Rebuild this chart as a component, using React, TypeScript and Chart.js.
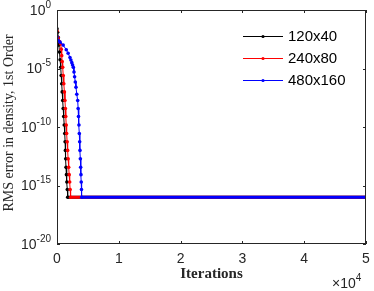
import React, { useEffect, useRef } from "react";
import { Chart, registerables } from "chart.js";

Chart.register(...registerables);

const seriesNames = ["120x40", "240x80", "480x160"];
const seriesColors = ["#000000", "#ff0000", "#0000ff"];

const blackIter = [0, 100, 210, 300, 400, 500, 600, 680, 760, 840, 920, 1000, 1080, 1170, 1250, 1310, 1360, 1410, 1460, 1530, 1600, 1670, 1730, 50000];
const blackErr = [2.51e-2, 1.26e-2, 4.37e-3, 1.0e-3, 2.51e-4, 5.6e-5, 1.26e-5, 2.5e-6, 5.0e-7, 1.0e-7, 1.82e-8, 3.8e-9, 7.94e-10, 1.5e-10, 2.82e-11, 5.5e-12, 1e-12, 1.9e-13, 3.55e-14, 8.5e-15, 2.0e-15, 4.5e-16, 1e-16, 1e-16];

const redIter = [0, 200, 400, 600, 680, 760, 840, 920, 1010, 1100, 1200, 1290, 1360, 1420, 1490, 1560, 1640, 1720, 1800, 1890, 1970, 2050, 2130, 2200, 50000];
const redErr = [1.58e-2, 3.98e-3, 2.0e-3, 1.26e-3, 4.5e-4, 1.26e-4, 4.0e-5, 1.26e-5, 2.5e-6, 5.0e-7, 1.0e-7, 1.82e-8, 3.8e-9, 7.94e-10, 1.5e-10, 2.82e-11, 5.5e-12, 1e-12, 1.9e-13, 3.55e-14, 8.5e-15, 2.0e-15, 4.5e-16, 1e-16, 1e-16];

const blueIter = [0, 200, 500, 1000, 1500, 1800, 2100, 2250, 2400, 2520, 2640, 2750, 2850, 2960, 3070, 3200, 3350, 3420, 3480, 3550, 3610, 3670, 3720, 3780, 3830, 3880, 3920, 3960, 4000, 50000];
const blueErr = [5.0e-3, 2.5e-3, 1.78e-3, 1e-3, 4.0e-4, 2.0e-4, 8.7e-5, 5.3e-5, 3.16e-5, 2.0e-5, 1.26e-5, 5.0e-6, 2.0e-6, 7.0e-7, 2.5e-7, 6.3e-8, 1.82e-8, 3.8e-9, 7.94e-10, 1.5e-10, 2.82e-11, 5.5e-12, 1e-12, 1.9e-13, 3.55e-14, 8.5e-15, 2.0e-15, 4.5e-16, 1e-16, 1e-16];

const xTicks = [0, 10000, 20000, 30000, 40000, 50000];
const xTickLabels = ["0", "1", "2", "3", "4", "5"];
const yTicks = [1, 1e-5, 1e-10, 1e-15, 1e-20];
const yTickExps = ["0", "-5", "-10", "-15", "-20"];

const FLOOR = 1e-16;
const AXIS = "#262626";

const axesPlugin = {
  id: "matlabAxes",
  afterDatasetsDraw(chart: any) {
    const { ctx, chartArea: ca, scales } = chart;
    const x = scales.x;
    const y = scales.y;
    ctx.save();
    ctx.strokeStyle = AXIS;
    ctx.lineWidth = 1;
    ctx.strokeRect(Math.round(ca.left) + 0.5, Math.round(ca.top) + 0.5, Math.round(ca.right - ca.left) - 1, Math.round(ca.bottom - ca.top) - 1);
    const tl = 3;
    ctx.beginPath();
    xTicks.forEach((v) => {
      const px = Math.round(x.getPixelForValue(v)) + 0.5;
      ctx.moveTo(px, ca.bottom);
      ctx.lineTo(px, ca.bottom - tl);
      ctx.moveTo(px, ca.top);
      ctx.lineTo(px, ca.top + tl);
    });
    yTicks.forEach((v) => {
      const py = Math.round(y.getPixelForValue(v)) + 0.5;
      ctx.moveTo(ca.left, py);
      ctx.lineTo(ca.left + tl, py);
      ctx.moveTo(ca.right, py);
      ctx.lineTo(ca.right - tl, py);
    });
    ctx.stroke();

    ctx.fillStyle = AXIS;
    ctx.font = "14px 'Liberation Sans', Arial, sans-serif";
    ctx.textAlign = "center";
    ctx.textBaseline = "middle";
    xTicks.forEach((v, i) => {
      ctx.fillText(xTickLabels[i], x.getPixelForValue(v), ca.bottom + 15);
    });

    yTicks.forEach((v, i) => {
      const py = y.getPixelForValue(v);
      ctx.font = "10px 'Liberation Sans', Arial, sans-serif";
      const ew = ctx.measureText(yTickExps[i]).width;
      ctx.textAlign = "right";
      ctx.textBaseline = "middle";
      ctx.fillText(yTickExps[i], ca.left - 6, py - 5);
      ctx.font = "14px 'Liberation Sans', Arial, sans-serif";
      ctx.fillText("10", ca.left - 6 - ew, py + 1);
    });

    // x multiplier
    ctx.textAlign = "left";
    ctx.font = "14px 'Liberation Sans', Arial, sans-serif";
    ctx.textBaseline = "alphabetic";
    ctx.fillText("\u00d710", 332, 288);
    const mw = ctx.measureText("\u00d710").width;
    ctx.font = "10px 'Liberation Sans', Arial, sans-serif";
    ctx.fillText("4", 332 + mw, 281);

    // axis titles
    ctx.fillStyle = "#262626";
    ctx.textAlign = "center";
    ctx.textBaseline = "middle";
    ctx.font = "bold 15px 'Liberation Serif', 'DejaVu Serif', serif";
    ctx.fillText("Iterations", (ca.left + ca.right) / 2, 274);
    ctx.save();
    ctx.translate(9, 123);
    ctx.rotate(-Math.PI / 2);
    ctx.font = "14px 'Liberation Serif', 'DejaVu Serif', serif";
    ctx.fillText("RMS error in density, 1st Order", 0, 0);
    ctx.restore();

    // legend
    const rows = [36, 58, 80];
    seriesNames.forEach((name, i) => {
      const ry = rows[i];
      ctx.strokeStyle = seriesColors[i];
      ctx.lineWidth = 1;
      ctx.beginPath();
      ctx.moveTo(243, ry + 0.5);
      ctx.lineTo(283, ry + 0.5);
      ctx.stroke();
      ctx.fillStyle = seriesColors[i];
      ctx.beginPath();
      ctx.arc(263, ry + 0.5, 1.6, 0, Math.PI * 2);
      ctx.fill();
      ctx.fillStyle = "#000000";
      ctx.textAlign = "left";
      ctx.textBaseline = "middle";
      ctx.font = "15px 'Liberation Sans', Arial, sans-serif";
      ctx.fillText(name, 288, ry + 1);
    });
    ctx.restore();
  },
};

function makeData(iters: number[], errs: number[]) {
  return iters.map((it, i) => ({ x: it, y: errs[i] }));
}

export default function App() {
  const ref = useRef<HTMLCanvasElement | null>(null);
  useEffect(() => {
    if (!ref.current) return;
    const floorWidth = (c: any) =>
      c.p0.parsed.y <= FLOOR * 1.01 && c.p1.parsed.y <= FLOOR * 1.01 ? 3 : 1;
    const mk = (label: string, color: string, iters: number[], errs: number[], order: number) => ({
      label,
      data: makeData(iters, errs),
      borderColor: color,
      backgroundColor: color,
      borderWidth: 1,
      pointRadius: 1.8,
      pointBorderWidth: 0,
      pointBackgroundColor: color,
      tension: 0,
      order,
      segment: { borderWidth: floorWidth },
    });
    const chart = new Chart(ref.current, {
      type: "line",
      data: {
        datasets: [
          mk(seriesNames[0], seriesColors[0], blackIter, blackErr, 2),
          mk(seriesNames[1], seriesColors[1], redIter, redErr, 1),
          mk(seriesNames[2], seriesColors[2], blueIter, blueErr, 0),
        ],
      },
      options: {
        animation: false,
        responsive: true,
        maintainAspectRatio: false,
        layout: { padding: { left: 57, right: 8, top: 10, bottom: 47 } },
        plugins: { legend: { display: false }, tooltip: { enabled: false } },
        scales: {
          x: { type: "linear", min: 0, max: 50000, display: false },
          y: { type: "logarithmic", min: 1e-20, max: 1, display: false },
        },
      },
      plugins: [axesPlugin],
    } as any);
    return () => chart.destroy();
  }, []);
  return (
    <div style={{ position: "absolute", left: 0, top: 0, width: 374, height: 291, background: "#fff" }}>
      <canvas ref={ref} />
    </div>
  );
}
